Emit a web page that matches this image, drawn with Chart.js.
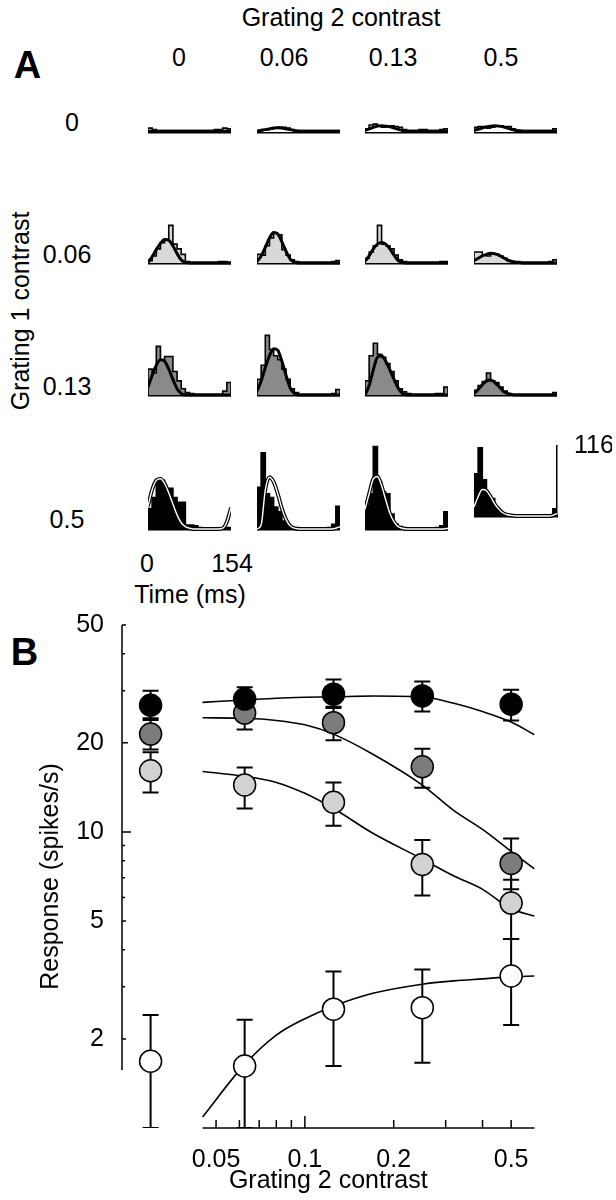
<!DOCTYPE html>
<html>
<head>
<meta charset="utf-8">
<script src="https://cdn.jsdelivr.net/npm/chart.js@4.4.1/dist/chart.umd.min.js"></script>
<style>
  html, body { margin: 0; padding: 0; background: #fff; }
  #page { position: relative; width: 616px; height: 1200px; overflow: hidden;
          font-family: 'Liberation Sans', Arial, sans-serif; color: #000; }
  .lbl { position: absolute; transform: translate(-50%, -50%); font-size: 25px;
         white-space: nowrap; line-height: 1; }
  .rot { transform: translate(-50%, -50%) rotate(-90deg); }
  .big { font-size: 38px; font-weight: bold; }
  canvas { position: absolute; }
</style>
</head>
<body>
<div id="page"></div>
<script>
// ---- panel A: PSTHs (20 bins of 7.7 ms, 0-154 ms), spikes/s ----
const binMs = 7.7;
const timeMaxMs = 154;
const psthMax = 116;

const g1Labels = ['0', '0.06', '0.13', '0.5'];   // grating 1 contrast (rows)
const g2Labels = ['0', '0.06', '0.13', '0.5'];   // grating 2 contrast (columns)

// each row: four histograms, one per grating 2 contrast
const psthG1_0 = [
  [5, 3, 2, 2, 2, 2, 2, 2, 2, 2, 2, 2, 2, 2, 2, 2, 3, 3, 5, 4],
  [2, 3, 3, 4, 5, 6, 6, 5, 3, 2, 2, 2, 2, 2, 2, 2, 2, 2, 2, 2],
  [4, 9, 10, 8, 6, 7, 8, 7, 6, 3, 2, 2, 2, 3, 3, 2, 2, 2, 3, 4],
  [6, 7, 7, 5, 6, 8, 8, 7, 7, 4, 2, 2, 2, 2, 2, 2, 2, 2, 2, 4]
];
const psthG1_006 = [
  [3, 9, 18, 26, 30, 48, 24, 18, 11, 2, 1, 1, 1, 1, 1, 1, 1, 2, 2, 1],
  [11, 10, 22, 32, 38, 36, 17, 10, 4, 2, 1, 1, 1, 1, 1, 1, 1, 1, 2, 3],
  [6, 14, 22, 48, 24, 22, 18, 10, 4, 2, 1, 1, 1, 1, 1, 1, 1, 1, 2, 2],
  [14, 14, 10, 9, 12, 11, 9, 6, 3, 2, 2, 1, 1, 1, 1, 1, 1, 1, 2, 4]
];
const psthG1_013 = [
  [33, 28, 62, 45, 49, 49, 30, 18, 8, 3, 2, 1, 1, 1, 1, 1, 1, 1, 5, 16],
  [20, 38, 76, 58, 50, 45, 33, 20, 8, 3, 1, 1, 1, 1, 1, 1, 1, 1, 2, 7],
  [18, 50, 66, 52, 48, 40, 30, 18, 8, 4, 2, 1, 1, 1, 1, 1, 1, 2, 2, 10],
  [6, 12, 17, 28, 18, 16, 10, 5, 2, 1, 1, 1, 1, 1, 1, 1, 1, 1, 1, 3]
];
const psthG1_05 = [
  [26, 40, 62, 62, 52, 52, 40, 34, 34, 5, 5, 4, 2, 1, 1, 1, 1, 1, 1, 2],
  [53, 97, 45, 40, 28, 22, 10, 4, 2, 2, 1, 1, 1, 1, 1, 1, 1, 2, 6, 29],
  [30, 45, 105, 60, 47, 45, 19, 6, 3, 2, 1, 1, 1, 1, 1, 1, 1, 2, 4, 22],
  [70, 113, 60, 35, 29, 14, 6, 3, 2, 1, 1, 1, 1, 1, 1, 1, 1, 1, 2, 12]
];

// fitted curves, sampled at the 21 bin edges
const psthFitG1_0 = [
  [1, 1, 1, 1, 1, 1, 1, 1, 1, 1, 1, 1, 1, 1, 1, 1, 1, 1, 1, 1, 1],
  [1, 2, 3, 4, 5, 5.5, 5, 4, 3, 2, 1, 1, 1, 1, 1, 1, 1, 1, 1, 1, 1],
  [2, 4, 6, 7.5, 8, 7.5, 6.5, 5, 3.5, 2, 1.5, 1, 1, 1, 1, 1, 1, 1, 1, 1, 1],
  [2, 3.5, 5, 6.5, 7.5, 8, 7.5, 6.5, 5, 3.5, 2, 1.5, 1, 1, 1, 1, 1, 1, 1, 1, 1]
];
const psthFitG1_006 = [
  [1, 8, 17, 25, 30, 29, 22, 12, 4, 1, 0, 0, 0, 0, 0, 0, 0, 0, 0, 0, 0],
  [2, 9, 20, 32, 39, 37, 27, 15, 5, 1, 0, 0, 0, 0, 0, 0, 0, 0, 0, 0, 0],
  [2, 9, 18, 24, 26, 24, 18, 10, 3, 1, 0, 0, 0, 0, 0, 0, 0, 0, 0, 0, 0],
  [3, 6, 9, 11, 12.5, 12, 10, 7, 4, 2, 1, 0.5, 0, 0, 0, 0, 0, 0, 0, 0, 0]
];
const psthFitG1_013 = [
  [10, 25, 38, 45, 43, 33, 20, 8, 2, 0, 0, 0, 0, 0, 0, 0, 0, 0, 0, 0, 0],
  [5, 18, 35, 50, 59, 57, 43, 25, 9, 2, 0, 0, 0, 0, 0, 0, 0, 0, 0, 0, 0],
  [0, 12, 32, 48, 50, 43, 32, 20, 9, 2, 0, 0, 0, 0, 0, 0, 0, 0, 0, 0, 0],
  [2, 7, 13, 18, 19, 16, 11, 5, 2, 0.5, 0, 0, 0, 0, 0, 0, 0, 0, 0, 0, 0]
];
const psthFitG1_05 = [
  [29, 50, 62, 64, 58, 46, 32, 18, 8, 3, 1, 0, 0, 0, 0, 0, 0, 0, 1, 9, 27],
  [0, 5, 50, 66, 60, 45, 26, 12, 4, 1, 0, 0, 0, 0, 0, 0, 0, 0, 0, 1, 3],
  [25, 45, 64, 67, 55, 37, 20, 9, 3, 1, 0, 0, 0, 0, 0, 0, 0, 0, 0, 0, 1],
  [15, 32, 44, 42, 32, 20, 11, 5, 2, 1, 0, 0, 0, 0, 0, 0, 0, 0, 0, 1, 4]
];

// ---- panel B: response vs grating 2 contrast ----
// 0.03 stands for "grating 2 absent", drawn left of the contrast axis
const g2Contrast = [0.03, 0.0625, 0.125, 0.25, 0.5];

const respG1_05 = [26.8, 28.1, 29.2, 28.8, 27.0];
const hiG1_05   = [30.0, 30.8, 32.7, 32.2, 30.2];
const loG1_05   = [24.2, 25.6, 26.2, 25.5, 23.8];

const respG1_013 = [21.4, 25.2, 23.4, 16.6, 7.83];
const hiG1_013   = [23.9, 28.0, 26.5, 19.1, 9.5];
const loG1_013   = [19.0, 22.2, 20.4, 14.1, 6.4];

const respG1_006 = [16.1, 14.4, 12.6, 7.77, 5.75];
const hiG1_006   = [18.6, 16.5, 14.7, 9.4, 6.9];
const loG1_006   = [13.6, 12.0, 10.5, 6.1, 4.35];

const respG1_0 = [1.68, 1.62, 2.52, 2.55, 3.26];
const hiG1_0   = [2.41, 2.32, 3.38, 3.43, 4.35];
const loG1_0   = [1.0, 1.0, 1.62, 1.66, 2.23];

// model fits
const curveX     = [0.045, 0.0625, 0.08, 0.1, 0.125, 0.17, 0.25, 0.32, 0.4, 0.5, 0.6];
const curveG1_05  = [27.4, 27.9, 28.3, 28.5, 28.6, 28.8, 28.6, 27.2, 25.5, 23.5, 21.3];
const curveG1_013 = [24.3, 24.2, 23.8, 23.0, 21.4, 18.3, 14.4, 11.8, 10.2, 8.6, 7.5];
const curveG1_006 = [16.0, 15.4, 14.7, 13.5, 12.0, 9.9, 8.1, 7.1, 6.4, 5.5, 5.2];
const curveG1_0   = [1.09, 1.64, 2.06, 2.34, 2.58, 2.85, 3.06, 3.14, 3.19, 3.24, 3.26];

const yTickLabels = [2, 5, 10, 20, 50];
const yTickMarks = [2, 3, 4, 5, 6, 7, 8, 9, 10, 20, 30, 40, 50];
const xTickLabels = [0.05, 0.1, 0.2, 0.5];
const xTickMarks = [0.05, 0.06, 0.07, 0.08, 0.09, 0.1, 0.2, 0.3, 0.4, 0.5];
const yAxisSpan = [1.57, 50];
const xAxisSpan = [0.045, 0.6];

Chart.defaults.font.family = "'Liberation Sans', Arial, sans-serif";
Chart.defaults.font.size = 25;
Chart.defaults.color = '#000';

const page = document.getElementById('page');

function addText(txt, x, y, cls) {
  const d = document.createElement('div');
  d.className = 'lbl' + (cls ? ' ' + cls : '');
  d.textContent = txt;
  d.style.left = x + 'px';
  d.style.top = y + 'px';
  page.appendChild(d);
}

function addCanvas(left, top, w, h) {
  const c = document.createElement('canvas');
  c.width = w; c.height = h;
  c.style.left = left + 'px';
  c.style.top = top + 'px';
  c.style.width = w + 'px';
  c.style.height = h + 'px';
  page.appendChild(c);
  return c;
}

// ---------- panel A ----------
addText('A', 27.5, 65, 'big');
addText('Grating 2 contrast', 341, 17);
const colLabelX = [179, 284, 393, 501];
g2Labels.forEach((t, i) => addText(t, colLabelX[i], 57));
const rowLabelPos = [[72, 122], [67, 254], [67, 386], [67, 519]];
g1Labels.forEach((t, i) => addText(t, rowLabelPos[i][0], rowLabelPos[i][1]));
addText('Grating 1 contrast', 20, 311, 'rot');
addText('0', 147, 563);
addText('154', 232, 563);
addText('Time (ms)', 190, 594);

const psthRows = [psthG1_0, psthG1_006, psthG1_013, psthG1_05];
const fitRows = [psthFitG1_0, psthFitG1_006, psthFitG1_013, psthFitG1_05];
const rowFill = ['#ffffff', '#d8d8d8', '#8a8a8a', '#000000'];
const cellLeft = [148, 257, 365, 474];
const rowBase = [140, 271, 403, 537];
const cellW = 83, cellH = 99, padT = 16, padB = 3, barAxisW = 55;

function stepPoints(hist) {
  const pts = [{x: 0, y: 0}];
  hist.forEach((v, i) => {
    pts.push({x: i * binMs, y: v}, {x: (i + 1) * binMs, y: v});
  });
  pts.push({x: timeMaxMs, y: 0});
  return pts;
}

for (let r = 0; r < 4; r++) {
  for (let c = 0; c < 4; c++) {
    const withBar = (r === 3 && c === 3);
    const w = cellW + (withBar ? barAxisW : 0);
    const cv = addCanvas(cellLeft[c], rowBase[r] - cellH - padT, w, cellH + padT + padB);
    const fitPts = fitRows[r][c].map((v, i) => ({x: i * binMs, y: v}));
    const datasets = [
      {
        data: stepPoints(psthRows[r][c]),
        borderColor: '#000', borderWidth: 1.6, backgroundColor: rowFill[r],
        fill: 'origin', pointRadius: 0, tension: 0, order: 3
      },
      {
        data: fitPts, borderColor: '#000', borderWidth: r === 3 ? 3.8 : 3,
        fill: false, pointRadius: 0, cubicInterpolationMode: 'monotone', order: 2, clip: 6
      }
    ];
    if (r === 3) {
      datasets.push({
        data: fitPts, borderColor: '#fff', borderWidth: 1.4,
        fill: false, pointRadius: 0, cubicInterpolationMode: 'monotone', order: 1, clip: 6
      });
    }
    new Chart(cv, {
      type: 'line',
      data: { datasets },
      options: {
        responsive: false, animation: false, events: [],
        layout: { padding: { top: padT, bottom: padB, left: 0, right: 0 } },
        plugins: { legend: { display: false }, tooltip: { enabled: false } },
        scales: {
          x: {
            type: 'linear', min: 0, max: timeMaxMs,
            ticks: { display: false }, grid: { display: false },
            border: { display: true, width: 2.5, color: '#000' }
          },
          y: withBar ? {
            type: 'linear', min: 0, max: psthMax, position: 'right',
            grid: { display: false },
            border: { display: true, width: 1.5, color: '#000' },
            ticks: { padding: 9 },
            afterBuildTicks: s => { s.ticks = [{ value: psthMax }]; },
            afterFit: s => { s.width = barAxisW; }
          } : { type: 'linear', min: 0, max: psthMax, display: false }
        }
      }
    });
  }
}

// ---------- panel B ----------
addText('B', 24.5, 651.5, 'big');

const series = [
  { resp: respG1_05,  hi: hiG1_05,  lo: loG1_05,  curve: curveG1_05,  fill: '#000000' },
  { resp: respG1_013, hi: hiG1_013, lo: loG1_013, curve: curveG1_013, fill: '#7c7c7c' },
  { resp: respG1_006, hi: hiG1_006, lo: loG1_006, curve: curveG1_006, fill: '#d2d2d2' },
  { resp: respG1_0,   hi: hiG1_0,   lo: loG1_0,   curve: curveG1_0,   fill: '#ffffff' }
];

const bDatasets = [];
series.forEach((s, k) => {
  bDatasets.push({
    data: g2Contrast.map((x, i) => ({x, y: s.resp[i]})),
    showLine: false, pointRadius: 11, pointBorderWidth: 1.5,
    pointBackgroundColor: s.fill, pointBorderColor: '#000', order: k, clip: false
  });
  const err = [];
  g2Contrast.forEach((x, i) => { err.push({x, y: s.lo[i]}, {x, y: s.hi[i]}, {x, y: null}); });
  bDatasets.push({
    data: err, showLine: true, spanGaps: false, borderColor: '#000', borderWidth: 2,
    pointStyle: 'line', pointRadius: 8, pointBorderWidth: 2, pointBorderColor: '#000',
    order: 10 + k
  });
  bDatasets.push({
    data: curveX.map((x, i) => ({x, y: s.curve[i]})),
    showLine: true, borderColor: '#000', borderWidth: 1.6, pointRadius: 0,
    cubicInterpolationMode: 'monotone', order: 20
  });
});

const frame = {
  id: 'frame',
  beforeDatasetsDraw(chart) {
    const { ctx, scales: { x, y } } = chart;
    const ax = x.left, ay = y.bottom;
    ctx.save();
    ctx.strokeStyle = '#000';
    ctx.lineWidth = 1.5;
    ctx.beginPath();
    ctx.moveTo(ax, y.getPixelForValue(yAxisSpan[1]));
    ctx.lineTo(ax, y.getPixelForValue(yAxisSpan[0]));
    ctx.moveTo(x.getPixelForValue(xAxisSpan[0]), ay);
    ctx.lineTo(x.getPixelForValue(xAxisSpan[1]), ay);
    yTickMarks.forEach(v => {
      const py = y.getPixelForValue(v);
      const len = v === 10 ? 9 : v === 20 ? 6 : yTickLabels.includes(v) ? 4 : 3;
      ctx.moveTo(ax, py); ctx.lineTo(ax + len, py);
    });
    xTickMarks.forEach(v => {
      const px = x.getPixelForValue(v);
      const len = v === 0.1 ? 12 : 8;
      ctx.moveTo(px, ay); ctx.lineTo(px, ay - len);
    });
    ctx.stroke();
    ctx.restore();
  }
};

const cvB = addCanvas(0, 600, 616, 600);
new Chart(cvB, {
  type: 'scatter',
  data: { datasets: bDatasets },
  options: {
    responsive: false, animation: false, events: [],
    layout: { padding: { top: 25, right: 81.5, bottom: 0, left: 0 } },
    plugins: { legend: { display: false }, tooltip: { enabled: false } },
    scales: {
      x: {
        type: 'logarithmic', min: 0.024, max: 0.6,
        grid: { display: false }, border: { display: false },
        ticks: { padding: 9, autoSkip: false, maxRotation: 0, callback: v => String(v) },
        afterBuildTicks: s => { s.ticks = xTickLabels.map(v => ({ value: v })); },
        afterFit: s => { s.height = 72; },
        title: { display: true, text: 'Grating 2 contrast', padding: { top: 0, bottom: 4 } }
      },
      y: {
        type: 'logarithmic', min: 1, max: 50,
        grid: { display: false }, border: { display: false },
        ticks: { padding: 10, autoSkip: false, callback: v => String(v) },
        afterBuildTicks: s => { s.ticks = yTickLabels.map(v => ({ value: v })); },
        afterFit: s => { s.width = 122; },
        title: { display: true, text: 'Response (spikes/s)', padding: { top: 36, bottom: 0 } }
      }
    }
  },
  plugins: [frame]
});
</script>
</body>
</html>
